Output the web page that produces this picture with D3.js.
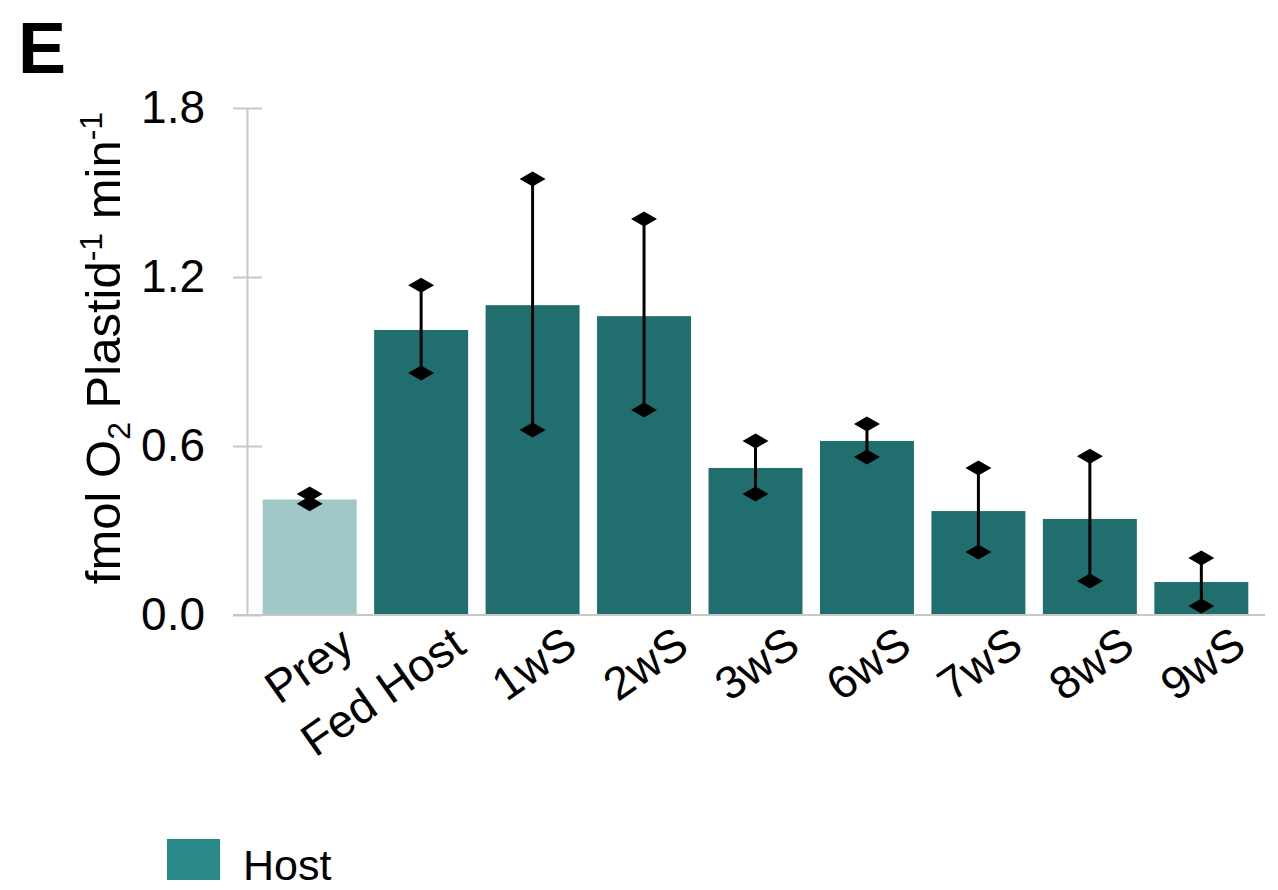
<!DOCTYPE html>
<html>
<head>
<meta charset="utf-8">
<script src="https://cdn.jsdelivr.net/npm/d3@7"></script>
<style>
  html, body { margin: 0; padding: 0; background: #ffffff; }
  svg { display: block; font-family: "Liberation Sans", Arial, sans-serif; }
</style>
</head>
<body>
<svg id="chart" width="1278" height="890"></svg>
<script>
// ---- data ----
const categories = ["Prey", "Fed Host", "1wS", "2wS", "3wS", "6wS", "7wS", "8wS", "9wS"];
const means      = [0.41, 1.012, 1.10, 1.061, 0.522, 0.618, 0.369, 0.341, 0.117];
const upper      = [0.430, 1.171, 1.548, 1.406, 0.618, 0.678, 0.522, 0.564, 0.202];
const lower      = [0.395, 0.859, 0.657, 0.728, 0.430, 0.561, 0.224, 0.121, 0.032];
const barColors  = ["#a1c8c8", "#206e6e", "#206e6e", "#206e6e", "#206e6e", "#206e6e", "#206e6e", "#206e6e", "#206e6e"];
const yTicks     = [0.0, 0.6, 1.2, 1.8];
const legendLabels = ["Host"];
const legendColors = ["#2a8a8a"];

const svg = d3.select("#chart");

const x = d3.scaleBand()
  .domain(categories)
  .range([254, 1257])
  .paddingInner(0.157)
  .paddingOuter(0.078);

const y = d3.scaleLinear()
  .domain([0, 1.8])
  .range([615, 108]);

// panel letter
svg.append("text")
  .attr("x", 18).attr("y", 73)
  .attr("font-size", 72).attr("font-weight", "bold")
  .attr("fill", "#000")
  .text("E");

// y axis
const yAxisG = svg.append("g").attr("transform", "translate(247,0)")
  .call(d3.axisLeft(y).tickValues(yTicks).tickFormat(d3.format(".1f")).tickSize(0).tickPadding(42));
yAxisG.select(".domain").attr("stroke", "#c8c8c8").attr("stroke-width", 2);
yAxisG.selectAll(".tick text").attr("font-size", 46).attr("fill", "#000")
  .attr("font-family", "Liberation Sans, Arial, sans-serif");
yAxisG.selectAll(".tick").append("line")
  .attr("x1", -14).attr("x2", 15)
  .attr("stroke", "#c8c8c8").attr("stroke-width", 2);

// x baseline
svg.append("line")
  .attr("x1", 233).attr("x2", 1265)
  .attr("y1", y(0)).attr("y2", y(0))
  .attr("stroke", "#c8c8c8").attr("stroke-width", 2);

// bars
svg.append("g").selectAll("rect")
  .data(categories)
  .join("rect")
  .attr("x", d => x(d))
  .attr("width", x.bandwidth())
  .attr("y", (d, i) => y(means[i]))
  .attr("height", (d, i) => y(0) - y(means[i]) - 1)
  .attr("fill", (d, i) => barColors[i]);

// error bars
const eg = svg.append("g");
const diamond = (cx, cy) => {
  const w = 13, h = 7.5;
  return `M${cx - w},${cy}L${cx},${cy - h}L${cx + w},${cy}L${cx},${cy + h}Z`;
};
categories.forEach((c, i) => {
  const cx = x(c) + x.bandwidth() / 2;
  eg.append("line")
    .attr("x1", cx).attr("x2", cx)
    .attr("y1", y(upper[i])).attr("y2", y(lower[i]))
    .attr("stroke", "#000").attr("stroke-width", 3);
  eg.append("path").attr("d", diamond(cx, y(upper[i]))).attr("fill", "#000");
  eg.append("path").attr("d", diamond(cx, y(lower[i]))).attr("fill", "#000");
});

// x labels
svg.append("g").selectAll("text")
  .data(categories)
  .join("text")
  .attr("transform", d => `translate(${x(d) + x.bandwidth() / 2 + 47},651) rotate(-35)`)
  .attr("text-anchor", "end")
  .attr("font-size", 46)
  .attr("fill", "#000")
  .text(d => d);

// y title
const yt = svg.append("text")
  .attr("transform", "translate(120,348) rotate(-90)")
  .attr("text-anchor", "middle")
  .attr("font-size", 49)
  .attr("fill", "#000");
yt.append("tspan").text("fmol O");
yt.append("tspan").attr("font-size", 32).attr("dy", 10).text("2");
yt.append("tspan").attr("dy", -10).text(" Plastid");
yt.append("tspan").attr("font-size", 32).attr("dy", -18).text("-1");
yt.append("tspan").attr("dy", 18).text(" min");
yt.append("tspan").attr("font-size", 32).attr("dy", -18).text("-1");

// legend
const lg = svg.append("g").selectAll("g").data(legendLabels).join("g");
lg.append("rect")
  .attr("x", 167).attr("y", 839).attr("width", 53).attr("height", 41)
  .attr("fill", (d, i) => legendColors[i]);
lg.append("text")
  .attr("x", 243).attr("y", 880)
  .attr("font-size", 43).attr("fill", "#000")
  .text(d => d);
</script>
</body>
</html>
